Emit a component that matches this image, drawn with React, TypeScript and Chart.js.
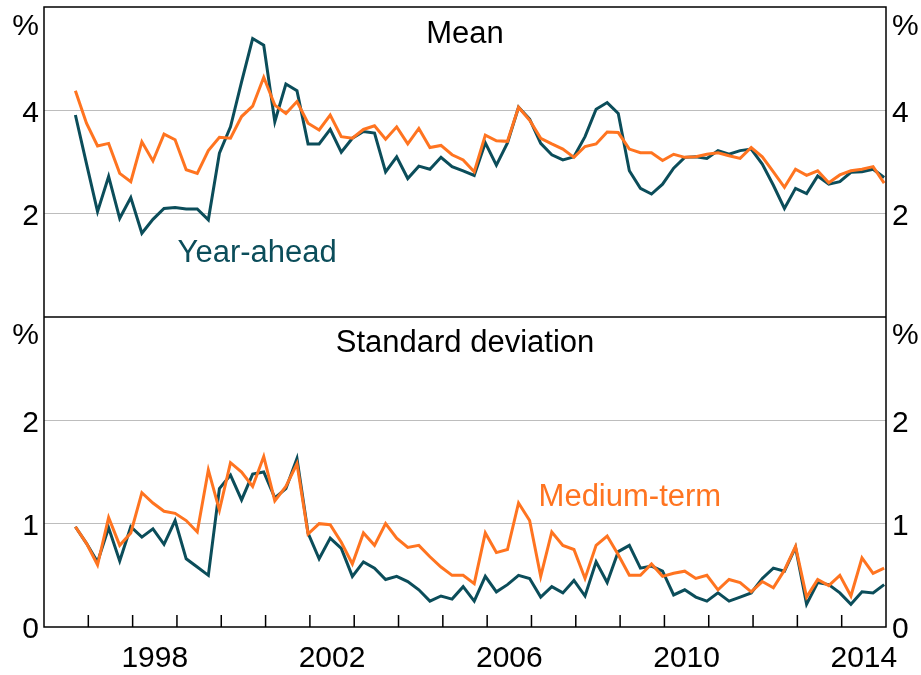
import React, { useEffect, useRef } from 'react';
import { Chart, registerables } from 'chart.js';

Chart.register(...registerables);

// ---------- data ----------
const firstYear = 1996;
const firstQuarter = 3;
const labelYears = [1998, 2002, 2006, 2010, 2014];
const tickYears = [1997, 1998, 1999, 2000, 2001, 2002, 2003, 2004, 2005, 2006, 2007, 2008, 2009, 2010, 2011, 2012, 2013, 2014];

const meanTicks = [2, 4];
const sdTicks = [0, 1, 2];

const yearAheadMean = [
  3.91, 2.97, 2.04, 2.72, 1.91, 2.31, 1.62, 1.89, 2.10, 2.12,
  2.09, 2.09, 1.88, 3.17, 3.68, 4.55, 5.39, 5.26, 3.78, 4.51,
  4.38, 3.35, 3.35, 3.63, 3.19, 3.46, 3.59, 3.56, 2.81, 3.10,
  2.68, 2.92, 2.86, 3.09, 2.91, 2.83, 2.74, 3.37, 2.94, 3.37,
  4.06, 3.83, 3.36, 3.14, 3.04, 3.10, 3.49, 4.02, 4.15, 3.94,
  2.83, 2.49, 2.38, 2.57, 2.88, 3.09, 3.10, 3.07, 3.22, 3.15,
  3.22, 3.25, 2.96, 2.55, 2.10, 2.49, 2.39, 2.73, 2.57, 2.62,
  2.80, 2.81, 2.86, 2.70,
];

const mediumTermMean = [
  4.38, 3.75, 3.31, 3.36, 2.78, 2.62, 3.39, 3.02, 3.54, 3.43,
  2.85, 2.78, 3.22, 3.48, 3.46, 3.88, 4.08, 4.64, 4.10, 3.94,
  4.17, 3.75, 3.62, 3.91, 3.49, 3.46, 3.63, 3.70, 3.44, 3.68,
  3.35, 3.65, 3.28, 3.32, 3.14, 3.04, 2.81, 3.52, 3.41, 3.40,
  4.06, 3.81, 3.46, 3.35, 3.25, 3.09, 3.30, 3.35, 3.58, 3.57,
  3.25, 3.18, 3.18, 3.03, 3.15, 3.09, 3.10, 3.15, 3.18, 3.12,
  3.07, 3.28, 3.10, 2.81, 2.51, 2.86, 2.74, 2.83, 2.60, 2.75,
  2.83, 2.86, 2.91, 2.59,
];

const yearAheadSD = [
  0.97, 0.81, 0.63, 0.96, 0.64, 0.97, 0.87, 0.95, 0.80, 1.03,
  0.66, 0.58, 0.50, 1.34, 1.47, 1.23, 1.48, 1.50, 1.25, 1.34,
  1.63, 0.91, 0.66, 0.86, 0.76, 0.49, 0.63, 0.57, 0.46, 0.49,
  0.44, 0.36, 0.25, 0.30, 0.27, 0.39, 0.25, 0.49, 0.34, 0.41,
  0.50, 0.47, 0.29, 0.39, 0.33, 0.45, 0.30, 0.63, 0.43, 0.73,
  0.79, 0.57, 0.59, 0.54, 0.31, 0.36, 0.29, 0.25, 0.33, 0.25,
  0.29, 0.33, 0.47, 0.57, 0.54, 0.77, 0.22, 0.43, 0.41, 0.33,
  0.22, 0.34, 0.33, 0.41,
];

const mediumTermSD = [
  0.97, 0.81, 0.60, 1.06, 0.79, 0.91, 1.30, 1.20, 1.12, 1.10,
  1.03, 0.92, 1.52, 1.13, 1.59, 1.50, 1.36, 1.65, 1.22, 1.36,
  1.58, 0.90, 1.00, 0.99, 0.82, 0.61, 0.91, 0.79, 1.00, 0.86,
  0.77, 0.79, 0.68, 0.58, 0.50, 0.50, 0.42, 0.91, 0.72, 0.75,
  1.20, 1.03, 0.49, 0.92, 0.79, 0.75, 0.47, 0.79, 0.88, 0.70,
  0.50, 0.50, 0.61, 0.49, 0.52, 0.54, 0.47, 0.50, 0.36, 0.46,
  0.43, 0.34, 0.44, 0.38, 0.55, 0.78, 0.29, 0.46, 0.40, 0.50,
  0.30, 0.67, 0.52, 0.57,
];

// quarter categories, e.g. "1996-Q3"
const quarters: string[] = yearAheadMean.map((_, i) => {
  const q0 = firstQuarter - 1 + i;
  return `${firstYear + Math.floor(q0 / 4)}-Q${(q0 % 4) + 1}`;
});

// position each quarter at the middle of its last month
const quarterToX = (q: string) => {
  const [y, qq] = q.split('-Q');
  return Number(y) + (3 * Number(qq) - 0.5) / 12;
};

const toPoints = (vals: number[]) => vals.map((v, i) => ({ x: quarterToX(quarters[i]), y: v }));

// ---------- styles ----------
const TEAL = '#0b4d5a';
const ORANGE = '#ff7420';
const GRID = '#bdbdbd';
const FONT = "Arial, 'Liberation Sans', sans-serif";
const FS = 30;
const FS_TEXT = 31;

const decorPlugin = {
  id: 'decor',
  afterDraw(chart: any) {
    const { ctx, chartArea: a, scales } = chart;
    ctx.save();
    ctx.strokeStyle = '#000';
    ctx.lineWidth = 1.5;
    ctx.strokeRect(a.left, a.top, a.right - a.left, a.bottom - a.top);
    // panel divider
    const yd = scales.yBot.getPixelForValue(3);
    ctx.beginPath();
    ctx.moveTo(a.left, yd);
    ctx.lineTo(a.right, yd);
    ctx.stroke();
    // inward year tick marks
    ctx.beginPath();
    for (const yr of tickYears) {
      const x = scales.x.getPixelForValue(yr);
      ctx.moveTo(x, a.bottom);
      ctx.lineTo(x, a.bottom - 12);
    }
    ctx.stroke();

    // text annotations
    ctx.font = `${FS_TEXT}px ${FONT}`;
    ctx.textAlign = 'center';
    ctx.textBaseline = 'alphabetic';
    ctx.fillStyle = '#000';
    ctx.fillText('Mean', scales.x.getPixelForValue(2005.5), scales.yTop.getPixelForValue(5.3));
    ctx.fillText('Standard deviation', scales.x.getPixelForValue(2005.5), scales.yBot.getPixelForValue(2.66));
    ctx.fillStyle = TEAL;
    ctx.fillText('Year-ahead', scales.x.getPixelForValue(2000.81), scales.yTop.getPixelForValue(1.06));
    ctx.fillStyle = ORANGE;
    ctx.fillText('Medium-term', scales.x.getPixelForValue(2009.22), scales.yBot.getPixelForValue(1.17));
    ctx.restore();
  },
};

const tickFont = { size: FS, family: FONT };

const makeY = (
  position: 'left' | 'right',
  stack: string,
  max: number,
  values: number[],
  unitAt: number,
  width: number,
  showGrid: boolean,
) => ({
  type: 'linear',
  position,
  stack,
  stackWeight: 1,
  min: 0,
  max,
  afterBuildTicks: (s: any) => {
    s.ticks = [...values, unitAt].map((value) => ({ value }));
  },
  afterFit: (s: any) => {
    s.width = width;
    s.paddingTop = 0;
    s.paddingBottom = 0;
  },
  grid: {
    display: showGrid,
    drawTicks: false,
    color: (c: any) => {
      const v = c.tick ? c.tick.value : null;
      return v !== null && Number.isInteger(v) && v > 0 && v < max ? GRID : 'rgba(0,0,0,0)';
    },
    lineWidth: 1,
  },
  border: { display: false },
  ticks: {
    color: '#000',
    font: tickFont,
    padding: position === 'left' ? 5 : 6,
    labelOffset: 3,
    callback: (v: number) => (Number.isInteger(v) ? String(v) : '%'),
  },
});

export default function App() {
  const ref = useRef<HTMLCanvasElement | null>(null);

  useEffect(() => {
    if (!ref.current) return;
    const chart = new Chart(ref.current, {
      type: 'line',
      data: {
        datasets: [
          {
            label: 'Medium-term mean',
            data: toPoints(mediumTermMean),
            yAxisID: 'yTop',
            borderColor: ORANGE,
            borderWidth: 3,
            pointRadius: 0,
            tension: 0,
            order: 1,
          },
          {
            label: 'Year-ahead mean',
            data: toPoints(yearAheadMean),
            yAxisID: 'yTop',
            borderColor: TEAL,
            borderWidth: 3,
            pointRadius: 0,
            tension: 0,
            order: 2,
          },
          {
            label: 'Medium-term SD',
            data: toPoints(mediumTermSD),
            yAxisID: 'yBot',
            borderColor: ORANGE,
            borderWidth: 3,
            pointRadius: 0,
            tension: 0,
            order: 1,
          },
          {
            label: 'Year-ahead SD',
            data: toPoints(yearAheadSD),
            yAxisID: 'yBot',
            borderColor: TEAL,
            borderWidth: 3,
            pointRadius: 0,
            tension: 0,
            order: 2,
          },
        ],
      },
      options: {
        animation: false,
        responsive: false,
        devicePixelRatio: 1,
        layout: { padding: { top: 7, left: 0, right: 0, bottom: 0 } },
        plugins: { legend: { display: false }, tooltip: { enabled: false } },
        elements: { line: { borderJoinStyle: 'miter', borderCapStyle: 'butt' } },
        scales: {
          x: {
            type: 'linear',
            position: 'bottom',
            min: 1996,
            max: 2015,
            grid: { display: false },
            border: { display: false },
            afterBuildTicks: (s: any) => {
              s.ticks = labelYears.map((y) => ({ value: y + 0.5 }));
            },
            afterFit: (s: any) => {
              s.height = 48;
            },
            ticks: {
              autoSkip: false,
              maxRotation: 0,
              color: '#000',
              font: tickFont,
              padding: 6,
              callback: (v: number) => String(Math.floor(Number(v))),
            },
          },
          // left stack: later-defined axis is placed on top
          yBot: makeY('left', 'left', 3, sdTicks, 2.85, 44, true),
          yTop: makeY('left', 'left', 6, meanTicks, 5.68, 44, true),
          // right stack: earlier-defined axis is placed on top
          yTopR: makeY('right', 'right', 6, meanTicks, 5.68, 35, false),
          yBotR: makeY('right', 'right', 3, sdTicks, 2.85, 35, false),
        } as any,
      },
      plugins: [decorPlugin],
    } as any);
    return () => chart.destroy();
  }, []);

  return (
    <div style={{ position: 'absolute', left: 0, top: 0, width: 921, height: 675, background: '#fff' }}>
      <canvas ref={ref} width={921} height={675} style={{ display: 'block' }} />
    </div>
  );
}
